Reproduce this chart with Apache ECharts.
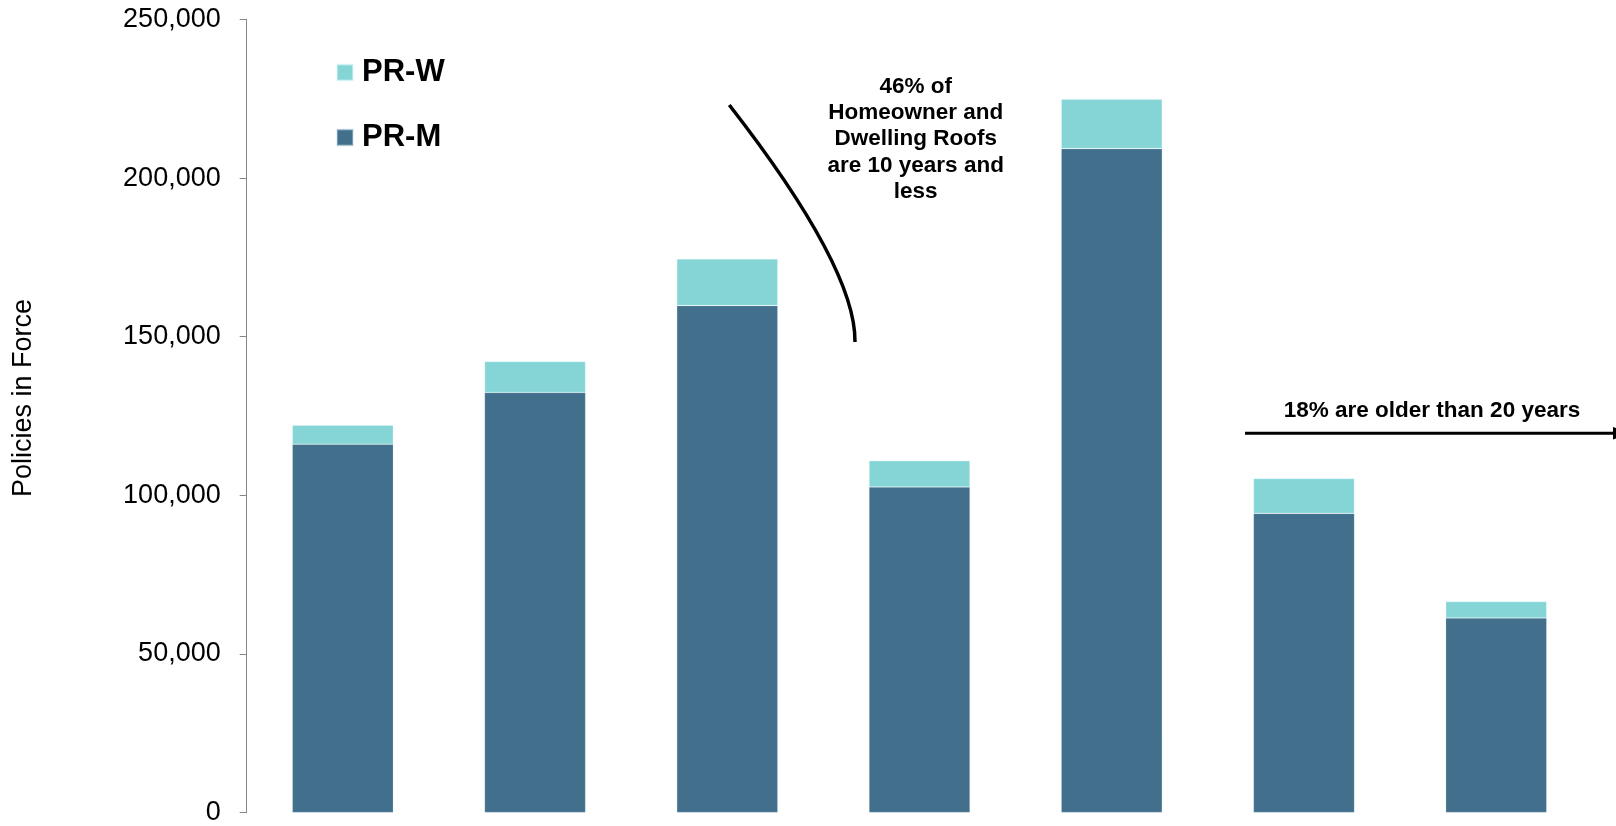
<!DOCTYPE html>
<html>
<head>
<meta charset="utf-8">
<script src="https://cdn.jsdelivr.net/npm/echarts@6/dist/echarts.min.js"></script>
<style>
html,body{margin:0;padding:0;background:#fff;}
#chart{width:1616px;height:826px;}
</style>
</head>
<body>
<div id="chart"></div>
<script>
// Data
var categories = ['Group 1', 'Group 2', 'Group 3', 'Group 4', 'Group 5', 'Group 6', 'Group 7'];
var prM = [116100, 132400, 159800, 102600, 209300, 94300, 61300];
var prW = [6000, 9800, 14700, 8300, 15600, 11000, 5200];
var yTicks = [0, 50000, 100000, 150000, 200000, 250000];
var axisTitle = 'Policies in Force';
var note1 = '46% of\nHomeowner and\nDwelling Roofs\nare 10 years and\nless';
var note2 = '18% are older than 20 years';

var FONT = '"Liberation Sans", Arial, sans-serif';
var chart = echarts.init(document.getElementById('chart'), null, {renderer: 'canvas'});

var option = {
  backgroundColor: '#ffffff',
  animation: false,
  grid: {left: 246.7, right: 23.7, top: 19.5, bottom: 10.5, containLabel: false},
  legend: {
    data: ['PR-W', 'PR-M'],
    orient: 'vertical',
    left: 336,
    top: 57,
    padding: 0,
    itemWidth: 16,
    itemHeight: 16,
    itemGap: 34,
    icon: 'rect',
    textStyle: {fontFamily: FONT, fontSize: 31, fontWeight: 'bold', color: '#000', lineHeight: 30, padding: [0, 0, 0, 4]},
    selectedMode: false
  },
  xAxis: {
    type: 'category',
    data: categories,
    axisLine: {show: false},
    axisTick: {show: false},
    axisLabel: {show: false},
    splitLine: {show: false}
  },
  yAxis: {
    type: 'value',
    min: yTicks[0],
    max: yTicks[yTicks.length - 1],
    interval: yTicks[1] - yTicks[0],
    axisLine: {show: true, lineStyle: {color: '#868686', width: 1}},
    axisTick: {show: true, length: 7, lineStyle: {color: '#868686', width: 1}},
    splitLine: {show: false},
    axisLabel: {
      margin: 26,
      fontFamily: FONT,
      fontSize: 27,
      color: '#000',
      formatter: function (v) { return v.toLocaleString('en-US'); }
    }
  },
  series: [
    {
      name: 'PR-M',
      type: 'bar',
      stack: 'total',
      data: prM,
      barWidth: 101,
      itemStyle: {color: '#416F8C', borderColor: 'rgba(200,220,235,0.4)', borderWidth: 0.6}
    },
    {
      name: 'PR-W',
      type: 'bar',
      stack: 'total',
      data: prW,
      barWidth: 101,
      itemStyle: {color: '#85D5D7', borderColor: 'rgba(230,250,250,0.5)', borderWidth: 0.6}
    }
  ],
  graphic: [
    {
      type: 'text',
      x: 23.7, y: 398,
      rotation: Math.PI / 2,
      style: {text: axisTitle, font: '27px ' + FONT, fill: '#000', textAlign: 'center', textVerticalAlign: 'middle'}
    },
    {
      type: 'text',
      x: 915.7, y: 139.2,
      style: {text: note1, font: 'bold 22.5px ' + FONT, fill: '#000', textAlign: 'center', textVerticalAlign: 'middle', lineHeight: 26.3}
    },
    {
      type: 'bezierCurve',
      shape: {x1: 729.3, y1: 105, cpx1: 856, cpy1: 268, x2: 855, y2: 342},
      style: {stroke: '#000', lineWidth: 3.5, fill: null}
    },
    {
      type: 'text',
      x: 1432, y: 410.7,
      style: {text: note2, font: 'bold 22.5px ' + FONT, fill: '#000', textAlign: 'center', textVerticalAlign: 'middle'}
    },
    {
      type: 'line',
      shape: {x1: 1245, y1: 433.3, x2: 1616, y2: 433.3},
      style: {stroke: '#000', lineWidth: 3}
    },
    {
      type: 'polygon',
      shape: {points: [[1613, 427], [1630, 433.3], [1613, 439.6]]},
      style: {fill: '#000'}
    }
  ]
};
chart.setOption(option);
</script>
</body>
</html>
